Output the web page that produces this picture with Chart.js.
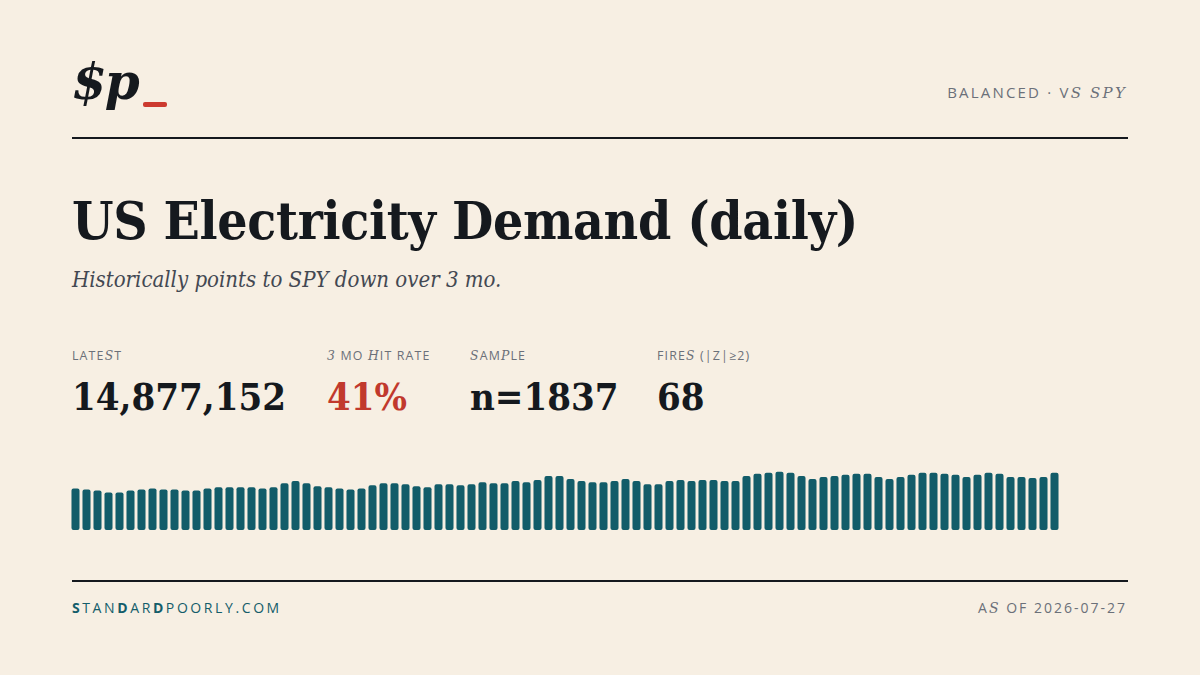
<!DOCTYPE html>
<html>
<head>
<meta charset="utf-8">
<script src="https://cdn.jsdelivr.net/npm/chart.js@4.4.1/dist/chart.umd.min.js"></script>
<style>
  html, body { margin: 0; padding: 0; }
  body { width: 1200px; height: 675px; background: #f7efe3; position: relative; overflow: hidden; color: #15191e; }
  .abs { position: absolute; white-space: nowrap; }
  .serif { font-family: "DejaVu Serif", serif; }
  .sans { font-family: "Open Sans", "Noto Sans", sans-serif; }
  .it { font-family: "DejaVu Serif", serif; font-style: italic; }
  #logo { left: 72px; top: 52px; font-size: 50px; font-weight: bold; font-style: italic; letter-spacing: -2px; }
  #logo-bar { left: 143px; top: 102px; width: 24px; height: 5px; background: #cc3a2f; border-radius: 2px; }
  #tag { right: 73px; top: 82px; font-size: 15px; letter-spacing: 2.2px; color: #6b7079; }
  .rule { position: absolute; left: 72px; width: 1056px; height: 2px; background: #15191e; }
  #title { left: 72px; top: 189px; font-size: 53px; font-weight: bold; font-family: "DejaVu Serif Condensed", "DejaVu Serif", serif; letter-spacing: -0.35px; }
  #sub { left: 72px; top: 267px; font-size: 22px; font-style: italic; color: #434852; font-family: "DejaVu Serif Condensed", "DejaVu Serif", serif; }
  .lbl { top: 347px; font-size: 12.4px; letter-spacing: 1.15px; color: #6b7079; }
  .num { top: 374px; font-size: 38px; font-weight: bold; font-family: "DejaVu Serif Condensed", "DejaVu Serif", serif; }
  #chartbox { position: absolute; left: 70px; top: 470px; width: 990px; height: 60px; }
  #foot-l { left: 72px; top: 598px; font-size: 14px; letter-spacing: 2.6px; color: #145d6a; }
  #foot-r { right: 73px; top: 598px; font-size: 14px; letter-spacing: 2.0px; color: #6b7079; }
</style>
</head>
<body>
<div id="logo" class="abs serif">$p</div>
<div id="logo-bar" class="abs"></div>
<div id="tag" class="abs sans">BALANCED · V<span class="it">S SPY</span></div>
<div class="rule" style="top:137px"></div>

<div id="title" class="abs">US Electricity Demand (daily)</div>
<div id="sub" class="abs">Historically points to SPY down over 3 mo.</div>

<div class="abs sans lbl" style="left:72px">LATE<span class="it">S</span>T</div>
<div class="abs sans lbl" style="left:327px"><span class="it">3</span> MO <span class="it">H</span>IT RATE</div>
<div class="abs sans lbl" style="left:470px"><span class="it">S</span>AM<span class="it">P</span>LE</div>
<div class="abs sans lbl" style="left:657px">FIRE<span class="it">S</span> (|Z|≥2)</div>

<div class="abs num" id="n-latest" style="left:72px"></div>
<div class="abs num" id="n-hit" style="left:327px; color:#c1392d"></div>
<div class="abs num" id="n-sample" style="left:470px"></div>
<div class="abs num" id="n-fires" style="left:657px"></div>

<div id="chartbox"><canvas id="bars"></canvas></div>

<div class="rule" style="top:580px"></div>
<div id="foot-l" class="abs sans"><b>S</b>TAN<b>D</b>AR<b>D</b>POORLY.COM</div>
<div id="foot-r" class="abs sans">A<span class="it">S</span> OF 2026-07-27</div>

<script>
// daily demand, millions of MWh, oldest -> newest
const days = Array.from({ length: 90 }, (_, i) => 'd' + (i + 1));
const demand = [
  10.82, 10.55, 10.28, 9.74, 9.74, 10.28, 10.55, 10.82, 10.55, 10.55,
  10.28, 10.28, 10.82, 11.09, 11.09, 11.09, 11.09, 10.82, 11.09, 12.17,
  12.71, 12.17, 11.36, 11.09, 10.82, 10.55, 10.82, 11.63, 12.17, 12.17,
  11.90, 11.36, 11.09, 11.90, 11.90, 11.63, 11.90, 12.44, 12.17, 12.17,
  12.71, 12.44, 12.98, 14.07, 14.07, 13.25, 12.71, 12.44, 12.44, 12.71,
  13.25, 12.71, 11.90, 11.90, 12.71, 12.98, 12.71, 12.98, 12.98, 12.71,
  12.71, 14.07, 14.61, 14.88, 15.15, 14.88, 14.07, 13.25, 13.80, 14.07,
  14.34, 14.61, 14.61, 13.80, 13.25, 13.80, 14.34, 14.88, 14.88, 14.61,
  14.34, 13.80, 14.34, 14.88, 14.61, 13.80, 13.80, 13.53, 13.80, 14.877152
];

// headline stats
const latest = 14877152;
const hitRate = 41;
const sampleN = 1837;
const fires = 68;

document.getElementById('n-latest').innerText = latest.toLocaleString('en-US');
document.getElementById('n-hit').innerText = hitRate + '%';
document.getElementById('n-sample').innerText = 'n=' + sampleN;
document.getElementById('n-fires').innerText = fires;

new Chart(document.getElementById('bars'), {
  type: 'bar',
  data: {
    labels: days,
    datasets: [{
      data: demand,
      backgroundColor: '#125c69',
      borderRadius: 2,
      borderSkipped: false,
      barPercentage: 0.73,
      categoryPercentage: 1.0
    }]
  },
  options: {
    responsive: true,
    maintainAspectRatio: false,
    animation: false,
    layout: { padding: 0 },
    plugins: { legend: { display: false }, tooltip: { enabled: false } },
    scales: {
      x: { display: false },
      y: { display: false, min: 0, max: 15.6 }
    }
  }
});
</script>
</body>
</html>
